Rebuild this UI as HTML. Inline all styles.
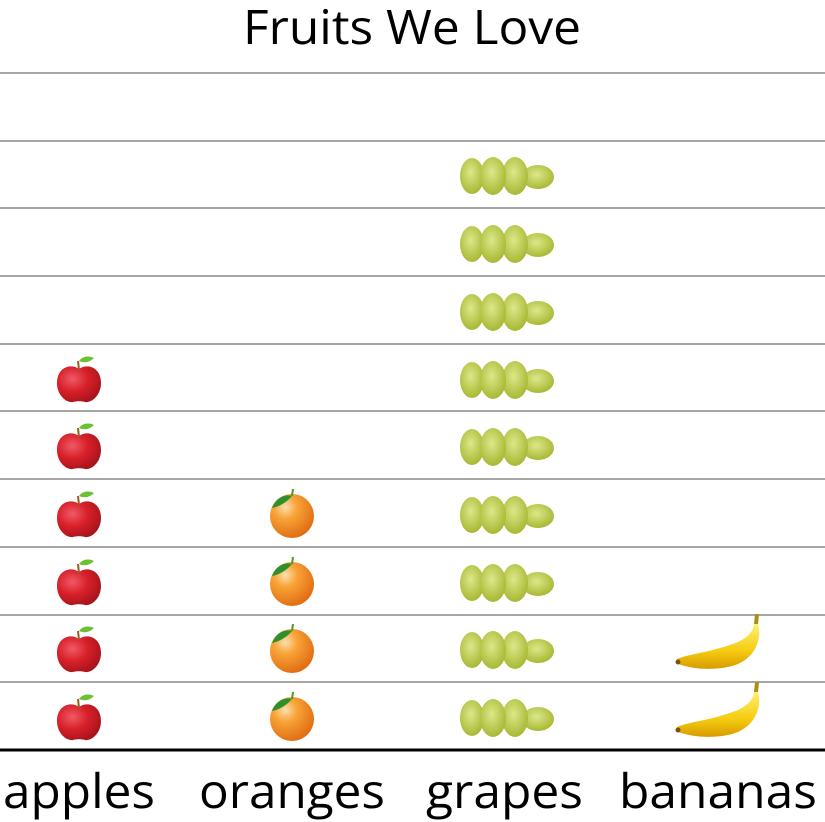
<!DOCTYPE html>
<html><head><meta charset="utf-8"><style>
body{margin:0;background:#fff;}
svg{display:block;}
text{font-family:"Open Sans","Liberation Sans",sans-serif;fill:#000;}
</style></head><body>
<svg width="825" height="822" viewBox="0 0 825 822" xmlns="http://www.w3.org/2000/svg">
<defs>
<radialGradient id="ga" cx="0.35" cy="0.35" r="0.7"><stop offset="0" stop-color="#f05a66"/><stop offset="0.5" stop-color="#d8202a"/><stop offset="1" stop-color="#a8141c"/></radialGradient>
<radialGradient id="go" cx="0.35" cy="0.3" r="0.75"><stop offset="0" stop-color="#fde0b0"/><stop offset="0.35" stop-color="#f8a438"/><stop offset="1" stop-color="#e06a10"/></radialGradient>
<radialGradient id="gg" cx="0.45" cy="0.4" r="0.65"><stop offset="0" stop-color="#dce88a"/><stop offset="1" stop-color="#a4b42c"/></radialGradient>
<linearGradient id="gb" x1="0" y1="0" x2="0" y2="1"><stop offset="0" stop-color="#fff070"/><stop offset="0.6" stop-color="#f5cc10"/><stop offset="1" stop-color="#d89a00"/></linearGradient>
<g id="apple">
<path d="M0,-12 C-8,-18 -22,-14 -22,2 C-22,14 -13,22 -6,21 C-3,20 3,20 6,21 C13,22 22,14 22,2 C22,-14 8,-18 0,-12Z" fill="url(#ga)"/>
<path d="M0,-11 L-1,-20" stroke="#9a5a20" stroke-width="2"/>
<path d="M0,-20 C4,-26 12,-25 15,-23 C10,-18 4,-18 0,-20Z" fill="#6cc034"/>
</g>
<g id="orange">
<circle cx="0" cy="3" r="22" fill="url(#go)"/>
<path d="M-20,-5 C-16,-16 -6,-19 0,-17 C-6,-10 -14,-6 -20,-5Z" fill="#2f8f2a"/>
<path d="M0,-17 L1,-24" stroke="#4a9a2a" stroke-width="2"/>
</g>
<g id="grapes">
<ellipse cx="32" cy="1" rx="16" ry="12" fill="url(#gg)"/>
<ellipse cx="9" cy="0" rx="13" ry="19" fill="url(#gg)"/>
<ellipse cx="-34" cy="0" rx="12" ry="18" fill="url(#gg)"/>
<ellipse cx="-13" cy="0" rx="13" ry="19" fill="url(#gg)"/>
</g>
<g id="banana">
<path d="M-41,5 C-30,0 -5,-2 20,-12 C30,-17 35,-22 36,-30 L40,-30 C44,-16 38,2 20,10 C5,16 -20,17 -40,10Z" fill="url(#gb)"/>
<path d="M36,-30 L37,-40 L41,-40 L40,-30Z" fill="#a89010"/>
<circle cx="-40" cy="8" r="2.5" fill="#7a5010"/>
</g>
</defs>
<text x="243" y="44" font-size="48" textLength="338" lengthAdjust="spacingAndGlyphs">Fruits We Love</text>
<g stroke="#888" stroke-width="1.5">
<line x1="0" y1="73" x2="825" y2="73"/><line x1="0" y1="141" x2="825" y2="141"/><line x1="0" y1="208" x2="825" y2="208"/><line x1="0" y1="276" x2="825" y2="276"/><line x1="0" y1="344" x2="825" y2="344"/><line x1="0" y1="411" x2="825" y2="411"/><line x1="0" y1="479" x2="825" y2="479"/><line x1="0" y1="547" x2="825" y2="547"/><line x1="0" y1="615" x2="825" y2="615"/><line x1="0" y1="682" x2="825" y2="682"/>
</g>
<line x1="0" y1="750" x2="825" y2="750" stroke="#000" stroke-width="3"/>
<use href="#apple" x="79" y="719"/><use href="#apple" x="79" y="651"/><use href="#apple" x="79" y="584"/><use href="#apple" x="79" y="516"/><use href="#apple" x="79" y="448"/><use href="#apple" x="79" y="381"/>
<use href="#orange" x="292" y="716"/><use href="#orange" x="292" y="648"/><use href="#orange" x="292" y="581"/><use href="#orange" x="292" y="513"/>
<use href="#grapes" x="506" y="718"/><use href="#grapes" x="506" y="650"/><use href="#grapes" x="506" y="583"/><use href="#grapes" x="506" y="515"/><use href="#grapes" x="506" y="447"/><use href="#grapes" x="506" y="380"/><use href="#grapes" x="506" y="312"/><use href="#grapes" x="506" y="244"/><use href="#grapes" x="506" y="176"/>
<use href="#banana" x="718" y="722"/><use href="#banana" x="718" y="654"/>
<g font-size="48">
<text x="3" y="808" textLength="152" lengthAdjust="spacingAndGlyphs">apples</text>
<text x="199" y="808" textLength="186" lengthAdjust="spacingAndGlyphs">oranges</text>
<text x="426" y="808" textLength="157" lengthAdjust="spacingAndGlyphs">grapes</text>
<text x="619" y="808" textLength="198" lengthAdjust="spacingAndGlyphs">bananas</text>
</g>
</svg>
</body></html>
